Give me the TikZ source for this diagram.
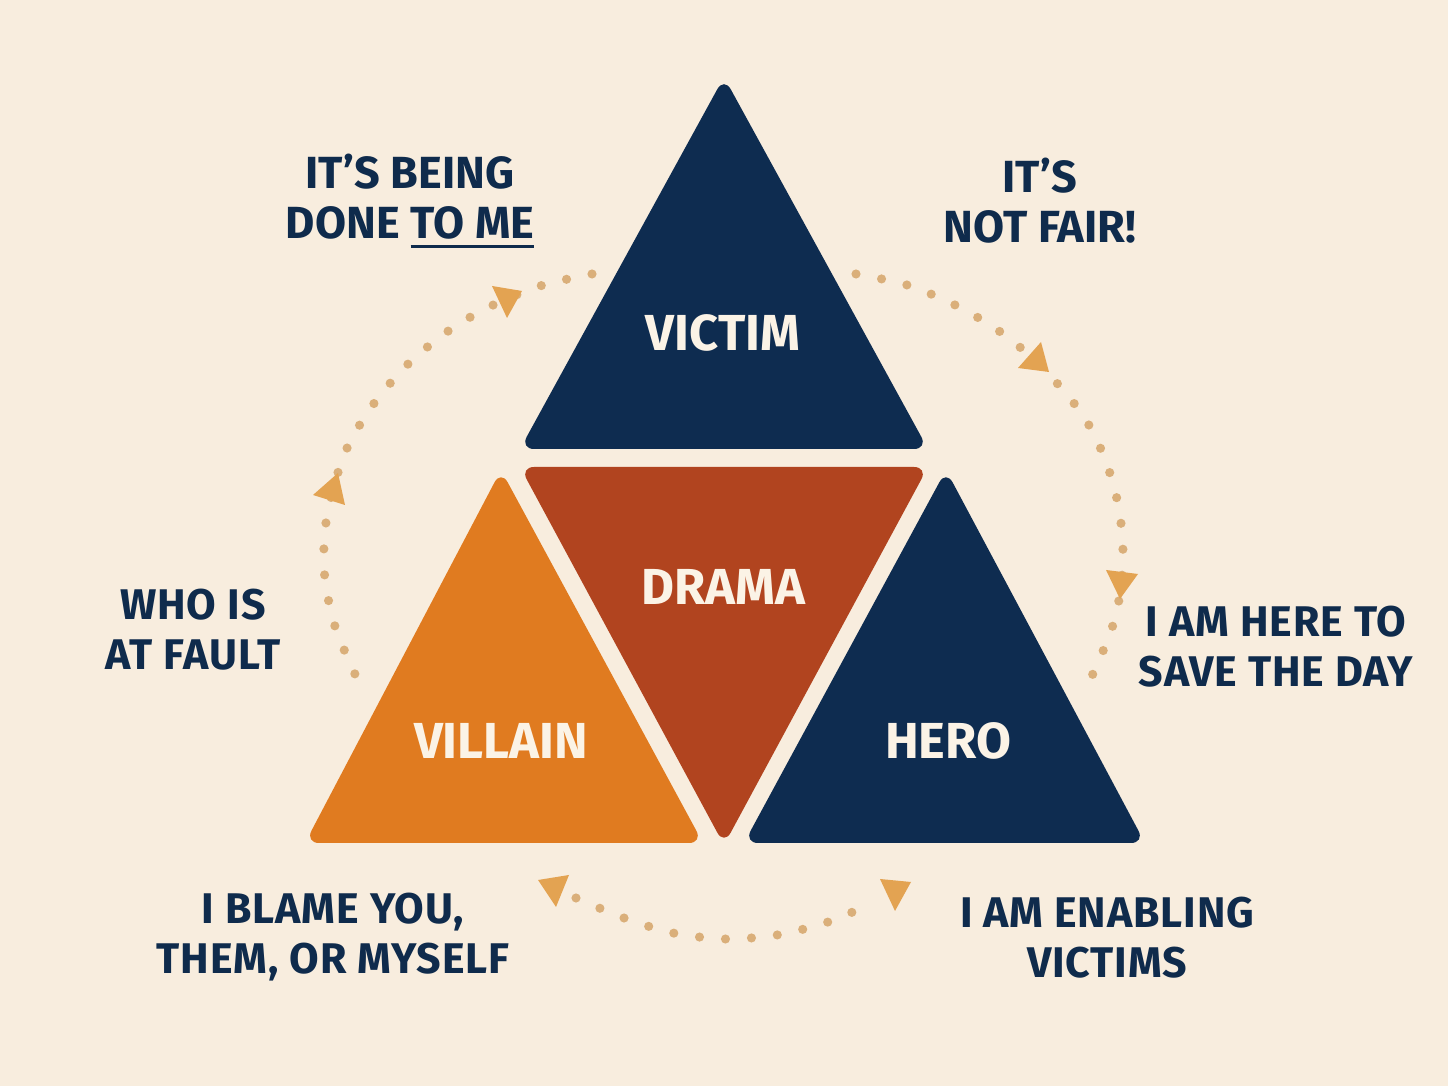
\documentclass[tikz,border=0pt]{standalone}
\usepackage{fontspec}
\setmainfont{Fira Sans}
\newfontfamily\sayfont[LetterSpace=2]{Fira Sans}
\definecolor{paper}{HTML}{F8EDDE}
\definecolor{navy}{HTML}{0E2C50}
\definecolor{rust}{HTML}{B1441F}
\definecolor{amber}{HTML}{E07B20}
\definecolor{ink}{HTML}{0F2B4C}
\definecolor{cream}{HTML}{FBF3E6}
\definecolor{dotcol}{HTML}{DAAF7A}
\definecolor{headcol}{HTML}{E3A352}
\newcommand\undertext[1]{\setbox0\hbox{#1}\rlap{\rule[-2.7pt]{\wd0}{0.9pt}}\box0}
\tikzset{
	tri/.style={rounded corners=4pt},
	rolename/.style={font=\bfseries\fontsize{14.4}{17}\selectfont, text=cream, inner sep=0pt},
	saying/.style={font=\sayfont\bfseries\fontsize{12.2}{14.2}\selectfont, text=ink, align=center, inner sep=0pt},
	bigsaying/.style={saying, font=\bfseries\fontsize{12.8}{14.2}\selectfont},
	dotline/.style={draw=dotcol, line width=2.6pt, line cap=round, dash pattern=on 0pt off 7.4pt},
	headfill/.style={fill=headcol}
}

\begin{document}
\begin{tikzpicture}[x=0.01cm, y=-0.01cm]
	\fill[paper] (0,0) rectangle (1448,1086);
	\useasboundingbox (0,0) rectangle (1448,1086);

	% dotted cycle
	\draw[dotline] plot[smooth] coordinates {(592,274) (540,286) (487,308) (444,334) (404,368) (370,409) (344,455) (327,516) (324,568) (333,620) (352,668) (364,690)};
	\draw[dotline] plot[smooth] coordinates {(856,274) (907,285) (955,305) (999,331) (1041,366) (1082,414) (1105,459) (1119,509) (1123,561) (1116,615) (1098,663) (1087,685)};
	\draw[dotline] plot[smooth] coordinates {(576,898) (624,918) (673,933) (725,939) (777,935) (828,922) (875,902)};

	% arrow heads
	\fill[headfill] (492,286) -- (522,291) -- (507,318) -- cycle;
	\fill[headfill] (313,495) -- (338,473) -- (345,505) -- cycle;
	\fill[headfill] (1018,368) -- (1041,342) -- (1049,372) -- cycle;
	\fill[headfill] (1106,570) -- (1138,574) -- (1120,599) -- cycle;
	\fill[headfill] (538,880) -- (569,875) -- (556,907) -- cycle;
	\fill[headfill] (880,879) -- (911,882) -- (895,911) -- cycle;

	% triangles
	\fill[navy, tri] (724,77) -- (928,449) -- (520,449) -- cycle;
	\fill[rust, tri] (520,467) -- (928,467) -- (724,845) -- cycle;
	\fill[amber, tri] (501,470) -- (703,843) -- (305,843) -- cycle;
	\fill[navy, tri] (946,470) -- (1145,843) -- (744,843) -- cycle;

	\node[rolename] (victim) at (723,333) {VICTIM};
	\node[rolename] (drama) at (723,587) {DRAMA};
	\node[rolename] (villain) at (501,741) {VILLAIN};
	\node[rolename] (hero) at (948,741) {HERO};

	% sayings
	\node[bigsaying] (doneto) at (410,201) {IT’S BEING\\DONE \undertext{TO ME}};
	\node[bigsaying] (notfair) at (1040,201) {IT’S\\NOT FAIR!};
	\node[saying] (fault) at (193,630) {WHO IS\\AT FAULT};
	\node[saying] (saveday) at (1276,647) {I AM HERE TO\\SAVE THE DAY};
	\node[saying] (blame) at (333,937) {I BLAME YOU,\\THEM, OR MYSELF};
	\node[saying] (enabling) at (1107,938) {I AM ENABLING\\VICTIMS};
\end{tikzpicture}
\end{document}
